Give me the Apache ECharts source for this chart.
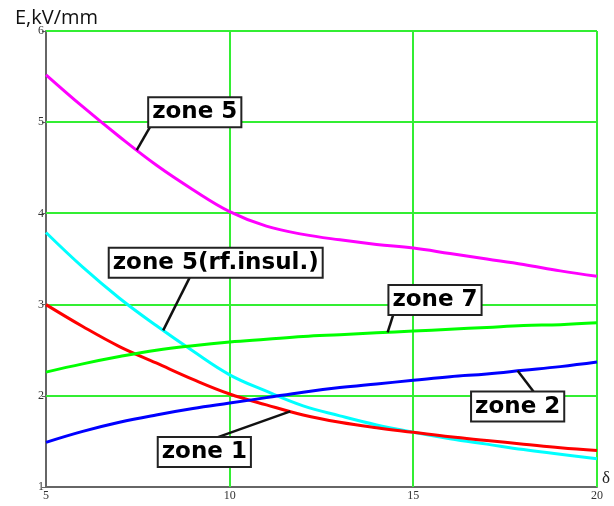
<!DOCTYPE html>
<html>
<head>
<meta charset="utf-8">
<script src="https://cdn.jsdelivr.net/npm/echarts@6/dist/echarts.min.js"></script>
<style>
html,body{margin:0;padding:0;background:#fff;}
#chart{width:614px;height:506px;}
</style>
</head>
<body>
<div id="chart"></div>
<script>
// ---- data ----
var xValues = [5,6,7,8,9,10,11,12,13,14,15,16,17,18,19,20];
var zone5      = [5.52,5.17,4.84,4.53,4.26,4.02,3.86,3.77,3.71,3.66,3.62,3.56,3.50,3.44,3.37,3.31];
var zone5rf    = [3.79,3.41,3.07,2.77,2.49,2.23,2.05,1.89,1.78,1.68,1.60,1.53,1.47,1.41,1.36,1.31];
var zone1      = [3.00,2.76,2.54,2.36,2.18,2.02,1.90,1.79,1.71,1.65,1.60,1.55,1.51,1.47,1.43,1.40];
var zone7      = [2.26,2.35,2.43,2.50,2.55,2.59,2.62,2.65,2.67,2.69,2.71,2.73,2.75,2.77,2.78,2.80];
var zone2      = [1.49,1.61,1.71,1.79,1.86,1.92,1.98,2.04,2.09,2.13,2.17,2.21,2.24,2.28,2.32,2.37];
var xTicks = [5,10,15,20];
var yTicks = [1,2,3,4,5,6];
var seriesNames = ['zone 5','zone 5(rf.insul.)','zone 1','zone 7','zone 2'];
// label annotations (data coordinates)
var labelNames = ['zone 5','zone 5(rf.insul.)','zone 7','zone 2','zone 1'];
var labelSeries = [0,1,3,4,2];
var labelAnchorX = [7.47,8.19,14.3,17.84,11.65];
var labelBoxX = [9.05,9.62,15.59,17.84,9.31];
var labelBoxY = [5.11,3.46,3.05,1.882,1.383];
var labelLeaderStartX = [7.83,8.91,14.45,18.27,9.68];

var colors = ['#ff00ff','#00ffff','#ff0000','#00ff00','#0000ff'];
var allData = [zone5, zone5rf, zone1, zone7, zone2];

function pairs(arr){ return xValues.map(function(x,i){return [x,arr[i]];}); }
function interp(arr, x){
  for (var i=0;i<xValues.length-1;i++){
    if (x>=xValues[i] && x<=xValues[i+1]){
      var t=(x-xValues[i])/(xValues[i+1]-xValues[i]);
      return arr[i]+t*(arr[i+1]-arr[i]);
    }
  }
  return arr[arr.length-1];
}

var chart = echarts.init(document.getElementById('chart'));
var gridColor = '#33ee33';
var option = {
  animation:false,
  title:{text:'E,kV/mm',left:10,top:3,textStyle:{fontFamily:'Open Sans',fontSize:20,fontWeight:'normal',color:'#111'}},
  grid:{left:46,right:17,top:31,bottom:19},
  xAxis:{
    type:'value', min:5, max:20, interval:5,
    name:'δ', nameLocation:'end', nameGap:5,
    nameTextStyle:{fontFamily:'Liberation Serif',fontSize:17,color:'#222',verticalAlign:'bottom'},
    axisLine:{show:true,lineStyle:{color:'#666',width:2}},
    axisTick:{show:true,length:4,inside:true,lineStyle:{color:'#666'}},
    axisLabel:{fontFamily:'Liberation Serif',fontSize:12,color:'#333',margin:3},
    splitLine:{show:false}
  },
  yAxis:{
    type:'value', min:1, max:6, interval:1,
    axisLine:{show:true,lineStyle:{color:'#666',width:2}},
    axisTick:{show:true,length:4,lineStyle:{color:'#666'}},
    axisLabel:{fontFamily:'Liberation Serif',fontSize:12,color:'#333',margin:2},
    splitLine:{show:false}
  },
  series: allData.map(function(d,i){
    return {name:seriesNames[i],type:'line',data:pairs(d),smooth:0.4,showSymbol:false,
      lineStyle:{color:colors[i],width:3},z:3};
  })
};
chart.setOption(option);

var graphics=[];
var x0=xTicks[0], x1=xTicks[xTicks.length-1], y0=yTicks[0], y1=yTicks[yTicks.length-1];
// green grid lines at the ticks, placed through the library scale
xTicks.slice(1).forEach(function(xv){
  var p1=chart.convertToPixel({gridIndex:0},[xv,y0]);
  var p2=chart.convertToPixel({gridIndex:0},[xv,y1]);
  var px=Math.round(p1[0]);
  graphics.push({type:'line',shape:{x1:px,y1:p1[1],x2:px,y2:p2[1]},style:{stroke:gridColor,lineWidth:2},z:1});
});
yTicks.slice(1).forEach(function(yv){
  var p1=chart.convertToPixel({gridIndex:0},[x0,yv]);
  var p2=chart.convertToPixel({gridIndex:0},[x1,yv]);
  var py=Math.round(p1[1]);
  graphics.push({type:'line',shape:{x1:p1[0],y1:py,x2:p2[0],y2:py},style:{stroke:gridColor,lineWidth:2},z:1});
});
labelNames.forEach(function(name,k){
  var s=labelSeries[k];
  var ax=labelAnchorX[k], ay=interp(allData[s],ax);
  var a=chart.convertToPixel({gridIndex:0},[ax,ay]);
  var c=chart.convertToPixel({gridIndex:0},[labelBoxX[k],labelBoxY[k]]);
  var ls=chart.convertToPixel({gridIndex:0},[labelLeaderStartX[k],labelBoxY[k]]);
  var sy = (a[1] > c[1]) ? c[1]+15 : c[1]-15;
  graphics.push({type:'line',shape:{x1:ls[0],y1:sy,x2:a[0],y2:a[1]},style:{stroke:'#111',lineWidth:2.5},z:10});
  graphics.push({type:'text',x:c[0],y:c[1],z:11,
    style:{text:name,fontFamily:'DejaVu Sans',fontWeight:'bold',fontSize:23,fill:'#000',
      align:'center',verticalAlign:'middle',lineHeight:27,
      backgroundColor:'#fff',borderColor:'#222',borderWidth:2,padding:[1,3,0,3]}});
});
chart.setOption({graphic:graphics});
</script>
</body>
</html>
